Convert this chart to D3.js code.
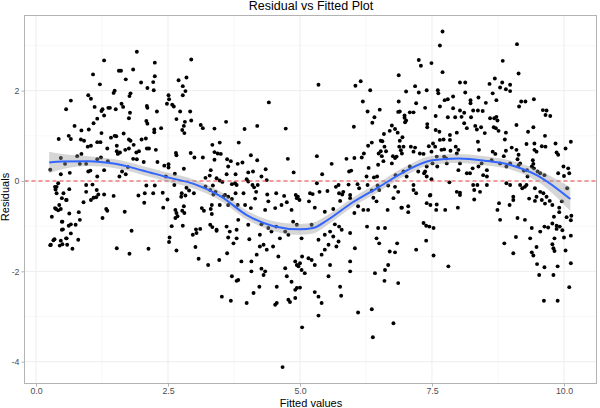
<!DOCTYPE html>
<html>
<head>
<meta charset="utf-8">
<script src="https://cdn.jsdelivr.net/npm/d3@7"></script>
<style>
  body { margin: 0; background: #fff; }
  svg { display: block; font-family: "Liberation Sans", Arial, sans-serif; }
</style>
</head>
<body>
<svg id="chart" width="600" height="408"></svg>
<script>
// points, [fitted, residual]
const leftPoints = [
  [1.91,2.86],[1.29,2.67],[2.25,2.62],[2.94,2.69],[1.08,2.36],[1.57,2.44],[1.61,2.44],[1.84,2.47],[1.70,2.25],[1.21,2.14],
  [1.99,2.18],[2.25,2.32],[2.22,2.19],[2.11,2.06],[2.23,2.01],[2.70,2.23],[2.85,2.29],[2.78,2.10],[2.83,1.99],[2.78,1.90],
  [2.51,1.90],[1.49,2.00],[1.47,1.95],[1.79,1.94],[1.77,1.88],[0.99,1.90],[1.04,1.82],[0.66,1.78],[0.57,1.59],[1.11,1.64],
  [1.24,1.55],[1.26,1.59],[1.37,1.62],[1.40,1.62],[1.51,1.59],[1.62,1.71],[1.65,1.64],[1.78,1.51],[1.76,1.39],[2.10,1.66],
  [2.11,1.62],[2.29,1.54],[2.48,1.71],[2.58,1.69],[2.61,1.65],[2.52,1.81],[2.73,1.54],[2.92,1.54],[2.66,1.37],[2.82,1.31],
  [2.80,1.22],[2.77,1.13],[2.81,1.06],[2.94,1.34],[3.12,1.24],[3.16,1.17],[3.38,1.16],[1.29,1.45],[1.16,1.38],[1.09,1.28],
  [1.00,1.14],[0.73,1.22],[0.86,1.12],[0.62,1.00],[0.66,0.93],[0.43,0.93],[0.85,0.92],[0.91,0.89],[1.04,0.78],[0.98,0.76],
  [1.16,0.86],[1.22,0.86],[1.24,1.06],[1.42,0.96],[1.49,1.00],[1.52,0.99],[1.35,0.72],[1.53,0.78],[1.53,0.66],[1.55,0.60],
  [1.59,0.63],[1.66,1.05],[1.76,0.92],[1.79,0.89],[1.69,0.69],[1.76,0.72],[1.85,0.80],[2.00,0.92],[2.08,0.94],[2.09,1.33],
  [2.11,1.27],[2.24,1.14],[2.24,1.08],[2.37,1.17],[2.10,0.72],[2.14,0.72],[1.90,0.63],[1.95,0.66],[1.84,0.49],[1.91,0.48],
  [1.16,0.48],[1.23,0.52],[0.86,0.60],[0.78,0.55],[0.47,0.51],[1.36,0.44],[1.74,0.31],[1.63,0.21],[1.70,0.15],[2.04,0.42],
  [2.27,0.69],[2.30,0.42],[2.43,0.34],[2.51,0.37],[2.51,0.30],[2.65,0.62],[2.66,0.57],[2.80,0.27],[2.93,0.62],[3.00,0.52],
  [3.16,0.52],[3.38,0.64],[3.38,0.47],[3.31,0.24],[3.29,0.12],[3.34,0.80],[0.27,0.25],[0.47,0.15],[0.64,0.18],[0.55,0.38],
  [0.83,0.38],[0.95,0.38],[0.99,0.21],[1.03,0.23],[1.16,0.10],[1.29,0.24],[1.58,0.10],[2.46,0.10],[2.63,0.16],[3.21,0.07],
  [0.42,-0.05],[0.39,-0.13],[0.37,-0.19],[0.52,-0.27],[0.63,-0.18],[0.95,-0.09],[0.95,-0.24],[1.07,-0.08],[1.15,-0.20],[1.18,-0.30],
  [1.09,-0.37],[1.29,-0.30],[1.47,-0.33],[1.94,-0.32],[2.06,-0.27],[2.09,-0.10],[2.22,-0.27],[2.25,-0.10],[2.40,-0.26],[2.62,-0.09],
  [2.76,-0.27],[2.85,-0.15],[2.90,-0.21],[2.99,-0.27],[3.21,-0.12],[3.30,-0.20],[3.35,-0.10],[3.36,-0.30],[0.49,-0.38],
  [0.36,-0.13],[0.39,-0.27],[0.58,-0.42],[0.36,-0.60],[0.30,-0.79],[0.49,-0.90],[0.33,-1.31],[0.27,-1.42],[0.58,-1.27],[0.49,-1.08],
  [0.57,-0.42],[0.90,-0.47],[1.04,-0.42],[1.14,-0.36],[2.49,-0.41],[2.75,-0.35],[2.83,-0.32],[0.38,-0.62],[0.44,-0.53],[0.47,-0.62],
  [0.42,-0.65],[0.63,-0.72],[0.81,-0.69],[1.33,-0.62],[1.35,-0.66],[1.26,-0.82],[1.68,-0.68],[2.05,-0.48],[2.41,-0.59],[2.64,-0.64],
  [2.66,-0.71],[2.77,-0.66],[2.80,-0.56],[2.81,-0.71],[2.68,-0.78],[2.64,-0.82],[3.14,-0.60],[3.18,-0.66],[3.33,-0.53],[3.31,-0.62],
  [3.33,-0.73],[0.50,-0.90],[0.83,-0.86],[0.62,-0.99],[0.66,-0.96],[0.75,-0.97],[0.51,-1.07],[0.66,-1.16],[1.81,-1.10],[2.57,-1.00],
  [2.78,-0.99],[3.03,-1.07],[3.11,-1.06],[2.97,-1.19],[3.04,-1.15],[3.30,-0.97],[3.34,-1.02],[3.42,-1.10],[0.35,-1.29],[0.47,-1.32],
  [0.57,-1.27],[0.80,-1.30],[0.28,-1.41],[0.45,-1.43],[0.50,-1.40],[0.59,-1.41],[0.69,-1.50],[1.53,-1.49],[1.77,-1.61],[2.13,-1.50],
  [2.53,-1.25],[2.52,-1.35],[2.66,-1.54],[3.02,-1.46],[3.08,-1.72],[3.26,-1.86]
];

const midPoints = [
  [6.87,2.34],[6.15,2.21],[6.05,2.11],[5.35,2.13],[6.33,2.01],[7.01,1.98],[4.41,1.74],[6.19,1.76],[6.28,1.54],[6.51,1.58],
  [6.87,1.76],[6.86,1.53],[6.98,1.45],[7.01,1.34],[6.41,1.41],[6.37,1.29],[3.60,1.31],[4.19,1.22],[3.95,1.15],[4.73,1.16],
  [6.02,1.20],[6.74,1.23],[6.80,1.15],[6.85,1.07],[6.59,1.04],[6.70,1.11],[6.94,0.97],[3.48,0.85],[3.84,0.85],[6.36,0.85],
  [6.29,0.78],[6.53,0.89],[6.56,0.88],[6.60,0.76],[6.63,0.66],[6.53,0.66],[6.49,0.61],[6.55,0.55],[6.89,0.89],[6.88,0.76],
  [6.91,0.68],[6.76,0.55],[6.80,0.51],[6.83,0.54],[6.74,0.39],[3.44,0.61],[3.50,0.60],[3.62,0.48],[3.69,0.44],[3.64,0.32],
  [3.61,0.15],[3.78,0.15],[3.82,0.38],[3.91,0.41],[4.07,0.57],[4.19,0.46],[4.02,0.19],[4.11,0.21],[4.35,0.26],[4.27,0.10],
  [4.77,0.49],[4.88,0.19],[5.32,0.55],[5.42,0.15],[5.60,0.38],[5.88,0.49],[5.93,0.21],[5.97,0.23],[6.03,0.51],[6.17,0.52],
  [6.21,0.61],[6.30,0.29],[6.40,0.08],[6.48,0.36],[6.58,0.44],[3.42,0.06],[3.48,0.01],[3.53,-0.02],[3.71,-0.07],[3.77,-0.05],
  [3.80,-0.09],[3.99,0.04],[4.02,-0.01],[4.10,-0.09],[4.13,-0.14],[4.17,-0.24],[4.20,-0.09],[4.37,0.02],[4.55,-0.27],[4.38,-0.30],
  [4.70,-0.33],[4.92,-0.31],[4.96,-0.35],[5.19,-0.27],[5.24,-0.29],[5.32,-0.05],[5.37,-0.24],[5.52,-0.22],[5.68,-0.13],[5.73,-0.09],
  [5.74,-0.27],[5.80,-0.30],[5.82,-0.24],[5.92,-0.08],[5.95,-0.31],[6.09,-0.07],[6.12,-0.16],[6.28,-0.09],[6.36,-0.21],[6.47,-0.10],
  [6.50,-0.20],[6.67,-0.10],[6.80,-0.13],[6.86,-0.24],[6.81,0.13],[6.46,0.10],[6.26,0.10],[3.40,-0.24],[3.58,-0.31],[3.64,-0.35],
  [3.78,-0.27],[3.93,-0.27],[3.55,-0.34],[3.71,-0.40],[3.48,-0.53],[3.64,-0.53],[3.82,-0.53],[3.96,-0.53],[4.07,-0.60],[4.15,-0.39],
  [4.40,-0.45],[4.34,-0.64],[4.53,-0.60],[4.65,-0.53],[4.75,-0.47],[4.84,-0.64],[4.94,-0.38],[4.99,-0.42],[5.17,-0.45],[5.28,-0.59],
  [5.47,-0.68],[5.63,-0.62],[5.76,-0.44],[5.95,-0.38],[6.10,-0.56],[6.20,-0.64],[6.29,-0.64],[6.39,-0.37],[6.45,-0.45],[6.66,-0.64],
  [6.77,-0.38],[6.93,-0.59],[3.42,-1.08],[3.61,-1.01],[3.67,-1.12],[3.83,-0.86],[3.80,-1.08],[4.02,-0.97],[3.80,-1.27],[3.74,-1.38],
  [3.64,-1.25],[4.04,-1.29],[4.24,-1.19],[4.27,-0.96],[4.40,-1.04],[4.46,-1.12],[4.55,-1.01],[4.62,-1.27],[4.72,-1.12],[4.78,-1.19],
  [4.87,-0.90],[4.94,-0.97],[5.03,-1.27],[5.22,-0.97],[5.35,-1.30],[5.47,-1.19],[5.57,-1.12],[5.63,-1.23],[5.66,-0.96],[5.74,-1.01],
  [5.79,-1.08],[5.95,-1.15],[5.73,-1.34],[6.03,-0.71],[6.48,-1.04],[6.45,-1.27],[6.27,-1.01],[6.50,-1.38],[6.61,-1.04],[3.47,-1.75],
  [3.62,-1.60],[3.89,-1.78],[4.08,-1.78],[4.18,-1.63],[4.24,-1.45],[4.31,-1.41],[4.37,-1.52],[4.49,-1.45],[4.59,-1.67],[4.72,-1.93],
  [4.75,-2.11],[4.84,-2.23],[4.91,-1.78],[4.94,-1.86],[5.00,-1.82],[4.97,-1.89],[5.03,-1.97],[5.04,-1.67],[5.09,-2.04],[5.16,-1.71],
  [5.22,-1.75],[5.28,-1.86],[5.41,-1.63],[5.47,-1.52],[5.54,-1.41],[5.57,-1.86],[5.54,-2.11],[5.69,-1.45],[5.95,-1.78],[5.95,-2.00],
  [6.04,-1.49],[6.42,-2.04],[6.61,-1.97],[6.67,-1.86],[6.70,-1.56],[6.80,-1.58],[6.84,-1.38],[6.60,-2.21],[6.86,-2.26],[3.71,-2.11],
  [3.80,-2.21],[3.83,-2.19],[4.08,-2.00],[4.27,-1.94],[4.34,-2.00],[4.31,-2.08],[4.23,-2.34],[4.56,-2.34],[4.91,-2.41],[4.94,-2.37],
  [5.00,-2.36],[5.28,-2.46],[5.35,-2.56],[5.41,-2.70],[5.76,-2.34],[5.78,-2.54],[3.52,-2.56],[3.69,-2.65],[3.99,-2.70],[4.12,-2.48],
  [4.53,-2.74],[4.56,-2.70],[4.78,-2.63],[4.81,-2.68],[4.91,-2.59],[5.35,-2.98],[6.10,-2.91],[6.36,-2.84],[6.77,-3.15],[5.04,-3.24],
  [6.38,-3.46],[4.67,-4.12]
];

const rightPoints = [
  [7.70,3.31],[7.65,3.00],[9.11,3.03],[7.25,2.68],[7.29,2.55],[7.49,2.61],[7.70,2.41],[8.84,2.66],[9.14,2.38],[8.03,2.18],
  [8.13,2.18],[8.59,2.15],[8.69,2.27],[8.79,2.07],[8.83,2.18],[8.90,2.03],[8.98,2.13],[8.98,1.99],[7.18,2.10],[7.25,1.96],
  [7.40,2.01],[7.61,2.01],[7.62,1.94],[7.74,1.79],[7.80,1.81],[7.90,1.87],[8.13,1.96],[8.23,1.79],[8.23,1.72],[8.38,1.85],
  [8.52,1.73],[8.65,1.94],[8.72,1.79],[9.19,1.76],[9.27,1.76],[9.43,1.81],[9.15,1.65],[9.60,1.57],[9.67,1.56],[9.65,1.46],
  [9.74,1.44],[6.89,1.54],[6.98,1.40],[7.08,1.52],[7.15,1.52],[6.99,1.30],[7.20,1.72],[7.37,1.62],[7.57,1.44],[7.65,1.65],
  [7.80,1.41],[7.90,1.61],[7.94,1.41],[8.03,1.56],[8.06,1.42],[8.11,1.51],[8.24,1.41],[8.28,1.56],[8.37,1.56],[8.46,1.55],
  [8.60,1.39],[8.68,1.39],[8.72,1.42],[8.74,1.34],[8.67,1.19],[7.41,1.26],[7.41,1.19],[7.57,1.13],[7.64,1.09],[7.72,0.92],
  [7.84,1.02],[7.97,1.07],[8.11,1.28],[8.16,1.17],[8.32,1.22],[8.35,1.14],[8.43,1.19],[8.50,1.06],[8.71,1.17],[8.76,1.11],
  [8.90,1.07],[9.10,1.24],[9.32,1.09],[9.42,1.19],[9.64,1.00],[6.96,0.76],[6.93,0.61],[7.10,0.76],[7.18,0.74],[7.15,0.65],
  [7.27,0.61],[7.34,0.60],[7.44,0.77],[7.52,0.83],[7.56,0.76],[7.49,0.65],[7.65,0.91],[7.68,0.69],[7.73,0.70],[7.84,0.91],
  [7.85,0.67],[7.95,0.76],[8.00,0.69],[7.97,0.61],[8.37,0.87],[8.39,0.69],[8.65,0.65],[8.70,0.60],[8.88,0.92],[8.86,0.55],
  [8.90,0.67],[9.01,0.74],[9.10,0.69],[9.14,0.58],[9.12,0.48],[9.29,0.82],[9.44,0.83],[9.44,0.69],[9.48,0.65],[9.58,0.77],
  [9.65,0.76],[9.41,0.46],[9.42,0.38],[9.39,0.32],[9.43,0.28],[9.84,0.83],[9.86,0.63],[9.89,0.58],[10.03,0.72],[10.13,0.87],
  [9.99,0.32],[10.08,0.28],[10.10,0.17],[10.00,0.11],[9.89,0.17],[9.63,0.13],[9.50,0.21],[9.55,0.17],[9.30,0.24],[9.31,0.10],
  [9.24,0.23],[9.14,0.35],[9.17,0.39],[8.98,0.39],[8.91,0.32],[8.79,0.39],[8.63,0.46],[8.54,0.24],[8.47,0.13],[8.54,0.10],
  [8.44,0.39],[8.38,0.32],[8.27,0.28],[8.22,0.17],[8.16,0.17],[8.03,0.39],[8.00,0.24],[7.78,0.39],[7.77,0.50],[7.59,0.54],
  [7.73,0.54],[7.60,0.32],[7.51,0.39],[7.40,0.32],[7.37,0.21],[7.40,0.10],[7.49,0.04],[7.35,0.17],[7.24,0.21],[7.08,0.32],
  [7.02,0.10],[6.96,0.21],[7.15,-0.09],[7.15,-0.20],[7.20,-0.27],[7.47,-0.31],[7.83,-0.03],[7.97,-0.24],[8.03,-0.26],[8.28,-0.09],
  [8.36,-0.09],[8.30,-0.20],[8.41,-0.24],[8.54,-0.09],[8.91,-0.05],[8.98,-0.09],[9.04,-0.35],[9.17,-0.09],[9.21,-0.16],[9.26,-0.13],
  [9.29,-0.09],[9.45,-0.16],[9.48,-0.35],[9.55,-0.24],[9.61,-0.27],[9.67,-0.35],[10.06,-0.16],[7.46,-0.32],[8.03,-0.31],[6.92,-0.59],
  [7.05,-0.56],[7.05,-0.69],[7.40,-0.49],[7.47,-0.53],[7.59,-0.52],[7.58,-0.64],[7.75,-0.64],[7.99,-0.59],[8.30,-0.41],[8.77,-0.49],
  [8.74,-0.64],[8.79,-0.86],[8.97,-0.53],[9.04,-0.42],[9.12,-0.82],[9.26,-0.86],[9.34,-0.39],[9.45,-0.44],[9.58,-0.42],[9.64,-0.50],
  [9.73,-0.44],[9.78,-0.53],[9.91,-0.59],[9.91,-0.69],[9.96,-0.45],[7.34,-0.93],[7.39,-0.99],[7.45,-1.01],[7.53,-1.04],[7.20,-1.52],
  [7.39,-1.32],[7.53,-1.65],[7.81,-1.89],[8.87,-1.38],[9.04,-1.60],[9.09,-1.24],[9.36,-1.27],[9.39,-1.04],[9.55,-1.12],[9.63,-1.01],
  [9.70,-1.03],[9.78,-0.94],[9.81,-0.79],[9.86,-0.99],[9.86,-1.06],[9.92,-1.01],[9.97,-1.09],[10.00,-1.25],[10.05,-0.80],[10.14,-0.77],
  [10.13,-0.87],[10.13,-1.21],[10.03,-1.54],[10.13,-1.82],[10.10,-2.35],[9.48,-1.46],[9.39,-1.58],[9.42,-1.65],[9.78,-1.40],[9.80,-1.49],
  [9.82,-1.55],[9.82,-1.27],[9.49,-1.84],[9.53,-2.08],[9.63,-1.91],[9.80,-2.08],[9.88,-1.89],[9.62,-2.65],[9.88,-2.65]
];

// loess smooth: x, fit, half width of the band
const smoothX  = [0.25, 0.5, 1.0, 1.5, 2.0, 2.5, 3.0, 3.5, 4.0, 4.5, 5.0, 5.25, 5.5, 6.0, 6.5, 7.0, 7.5, 8.0, 8.5, 9.0, 9.5, 10.12];
const smoothY  = [0.41, 0.43, 0.44, 0.38, 0.24, 0.08, -0.07, -0.34, -0.76, -1.00, -1.07, -1.04, -0.88, -0.47, -0.13, 0.22, 0.46, 0.50, 0.45, 0.35, 0.12, -0.40];
const smoothSE = [0.24, 0.17, 0.11, 0.10, 0.10, 0.10, 0.10, 0.10, 0.10, 0.11, 0.12, 0.12, 0.11, 0.10, 0.10, 0.10, 0.10, 0.10, 0.10, 0.10, 0.13, 0.26];

const xTicks = [0, 2.5, 5, 7.5, 10];
const yTicks = [-4, -2, 0, 2];

const svg = d3.select('#chart');
const panel = { left: 24.5, right: 596.5, top: 15.5, bottom: 383.5 };

const x = d3.scaleLinear().domain([-0.218, 10.616]).range([panel.left, panel.right]);
const y = d3.scaleLinear().domain([-4.483, 3.664]).range([panel.bottom, panel.top]);

// minor + major grid
const xMinor = d3.range(-1.25, 11, 1.25).filter(v => !xTicks.includes(v) && v > -0.218 && v < 10.616);
const yMinor = [-5, -3, -1, 1, 3].filter(v => v > -4.483 && v < 3.664);
const grid = svg.append('g');
grid.selectAll('.xmin').data(xMinor).enter().append('line')
    .attr('x1', d => x(d)).attr('x2', d => x(d))
    .attr('y1', panel.top).attr('y2', panel.bottom)
    .attr('stroke', '#f3f3f3').attr('stroke-width', 0.6);
grid.selectAll('.ymin').data(yMinor).enter().append('line')
    .attr('y1', d => y(d)).attr('y2', d => y(d))
    .attr('x1', panel.left).attr('x2', panel.right)
    .attr('stroke', '#f3f3f3').attr('stroke-width', 0.6);
grid.selectAll('.xmaj').data(xTicks).enter().append('line')
    .attr('x1', d => x(d)).attr('x2', d => x(d))
    .attr('y1', panel.top).attr('y2', panel.bottom)
    .attr('stroke', '#ebebeb').attr('stroke-width', 0.9);
grid.selectAll('.ymaj').data(yTicks).enter().append('line')
    .attr('y1', d => y(d)).attr('y2', d => y(d))
    .attr('x1', panel.left).attr('x2', panel.right)
    .attr('stroke', '#ebebeb').attr('stroke-width', 0.9);

// points
const allPoints = leftPoints.concat(midPoints, rightPoints);
svg.append('g').selectAll('circle')
    .data(allPoints)
    .enter()
    .append('circle')
    .attr('cx', d => x(d[0]))
    .attr('cy', d => y(d[1]))
    .attr('r', 1.95)
    .attr('fill', '#000');

// zero line
svg.append('line')
    .attr('x1', panel.left).attr('x2', panel.right)
    .attr('y1', y(0)).attr('y2', y(0))
    .attr('stroke', '#f03c3c').attr('stroke-width', 1)
    .attr('stroke-dasharray', '4,3');

// smooth band + line
const smooth = smoothX.map((v, i) => ({ x: v, y: smoothY[i], se: smoothSE[i] }));
svg.append('path')
    .datum(smooth)
    .attr('d', d3.area()
        .x(d => x(d.x))
        .y0(d => y(d.y - d.se))
        .y1(d => y(d.y + d.se))
        .curve(d3.curveMonotoneX))
    .attr('fill', '#999999')
    .attr('fill-opacity', 0.4);
svg.append('path')
    .datum(smooth)
    .attr('d', d3.line().x(d => x(d.x)).y(d => y(d.y)).curve(d3.curveMonotoneX))
    .attr('fill', 'none')
    .attr('stroke', '#3366ff')
    .attr('stroke-width', 2);

// panel border
svg.append('rect')
    .attr('x', panel.left).attr('y', panel.top)
    .attr('width', panel.right - panel.left).attr('height', panel.bottom - panel.top)
    .attr('fill', 'none').attr('stroke', '#b3b3b3').attr('stroke-width', 1);

// axes
const xAxis = svg.append('g')
    .attr('transform', `translate(0,${panel.bottom})`)
    .call(d3.axisBottom(x).tickValues(xTicks).tickFormat(d3.format('.1f')).tickSize(3).tickPadding(1.5));
const yAxis = svg.append('g')
    .attr('transform', `translate(${panel.left},0)`)
    .call(d3.axisLeft(y).tickValues(yTicks).tickFormat(d => d < 0 ? '-' + Math.abs(d) : d).tickSize(3).tickPadding(2));
[xAxis, yAxis].forEach(a => {
    a.select('.domain').remove();
    a.selectAll('.tick line').attr('stroke', '#b3b3b3');
    a.selectAll('.tick text').attr('fill', '#4d4d4d').attr('font-size', 8.8)
        .attr('font-family', '"Liberation Sans", Arial, sans-serif');
});

// titles
svg.append('text')
    .attr('x', 311).attr('y', 10)
    .attr('text-anchor', 'middle')
    .attr('font-size', 12.5)
    .text('Residual vs Fitted Plot');
svg.append('text')
    .attr('x', 311).attr('y', 406.5)
    .attr('text-anchor', 'middle')
    .attr('font-size', 11)
    .text('Fitted values');
svg.append('text')
    .attr('transform', 'translate(9,197) rotate(-90)')
    .attr('text-anchor', 'middle')
    .attr('font-size', 11)
    .text('Residuals');
</script>
</body>
</html>
